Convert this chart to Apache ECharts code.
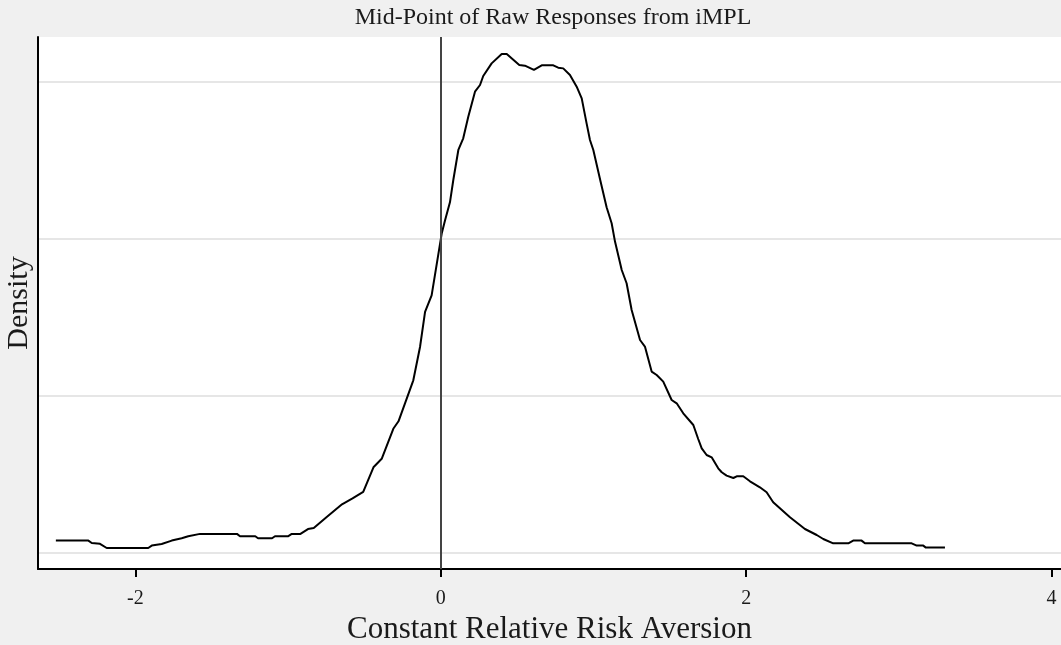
<!DOCTYPE html>
<html>
<head>
<meta charset="utf-8">
<script src="https://cdn.jsdelivr.net/npm/echarts@6/dist/echarts.min.js"></script>
<style>
html,body{margin:0;padding:0;background:#f0f0f0;}
#chart{width:1061px;height:645px;}
</style>
</head>
<body>
<div id="chart"></div>
<script>
// Kernel-density curve: x (CRRA) and density values
const xValues = [-2.521,-2.308,-2.286,-2.232,-2.188,-1.916,-1.893,-1.828,-1.762,-1.697,-1.654,-1.577,-1.335,-1.315,-1.215,-1.197,-1.105,-1.086,-1.001,-0.976,-0.919,-0.870,-0.832,-0.749,-0.647,-0.578,-0.508,-0.441,-0.387,-0.311,-0.277,-0.180,-0.136,-0.103,-0.060,0.006,0.028,0.060,0.082,0.115,0.147,0.180,0.224,0.257,0.278,0.333,0.399,0.432,0.514,0.551,0.610,0.661,0.737,0.769,0.802,0.846,0.890,0.923,0.955,0.977,0.999,1.043,1.086,1.119,1.141,1.185,1.217,1.250,1.305,1.337,1.381,1.414,1.457,1.512,1.545,1.588,1.654,1.686,1.709,1.741,1.774,1.817,1.840,1.872,1.916,1.938,1.981,2.025,2.090,2.134,2.177,2.287,2.385,2.462,2.505,2.570,2.669,2.701,2.756,2.778,3.084,3.117,3.160,3.177,3.302];
const densityValues = [0.00752,0.00745,0.00592,0.00541,0.00274,0.00274,0.00427,0.00529,0.00745,0.00892,0.01019,0.01172,0.01172,0.01019,0.01019,0.00892,0.00892,0.01019,0.01019,0.01172,0.01172,0.01478,0.01541,0.02229,0.03057,0.03439,0.03854,0.05414,0.05955,0.07866,0.08344,0.10955,0.13076,0.15306,0.16369,0.20299,0.21146,0.22293,0.23713,0.25624,0.26369,0.27745,0.29338,0.29764,0.30338,0.31140,0.31739,0.31739,0.31038,0.30994,0.30720,0.31013,0.31013,0.30866,0.30822,0.30401,0.29656,0.28911,0.27318,0.26261,0.25624,0.23758,0.21975,0.20955,0.19790,0.17981,0.17134,0.15433,0.13522,0.13102,0.11510,0.11293,0.10873,0.09701,0.09490,0.08854,0.08108,0.07217,0.06624,0.06197,0.06051,0.05350,0.05096,0.04885,0.04732,0.04841,0.04841,0.04522,0.04140,0.03822,0.03185,0.02229,0.01484,0.01102,0.00847,0.00573,0.00573,0.00745,0.00745,0.00573,0.00573,0.00427,0.00427,0.00299,0.00299];
const xTicks = [-2, 0, 2, 4];
const yGridValues = [0, 0.1, 0.2, 0.3];

const titleText = 'Mid-Point of Raw Responses from iMPL';
const xName = 'Constant Relative Risk Aversion';
const yName = 'Density';

const FONT = '"Liberation Serif", "DejaVu Serif", serif';
const curve = xValues.map((x, i) => [x, densityValues[i]]);

const chart = echarts.init(document.getElementById('chart'), null, {renderer: 'canvas'});
chart.setOption({
  backgroundColor: '#f0f0f0',
  animation: false,
  title: {
    text: titleText,
    left: 548, top: 1, textAlign: 'center',
    textStyle: {fontFamily: FONT, fontSize: 24, fontWeight: 'normal', color: '#1a1a1a'}
  },
  grid: {left: 38, right: 0, top: 37, bottom: 76, show: true, backgroundColor: '#ffffff', borderWidth: 0,
         containLabel: false, outerBoundsMode: 'none'},
  xAxis: {
    type: 'value', min: -2.638, max: 4.062,
    name: xName, nameLocation: 'middle', nameGap: 37,
    nameTextStyle: {fontFamily: FONT, fontSize: 31, color: '#1a1a1a'},
    axisLine: {show: true, onZero: false, lineStyle: {color: '#000', width: 2}},
    axisTick: {show: true, customValues: xTicks, length: 8, lineStyle: {color: '#000', width: 2}},
    axisLabel: {customValues: xTicks, margin: 20, fontFamily: FONT, fontSize: 20, color: '#1a1a1a'},
    splitLine: {show: false}
  },
  yAxis: {
    type: 'value', min: -0.01064, max: 0.3282,
    name: yName, nameLocation: 'middle', nameGap: 4, nameRotate: 90,
    nameTextStyle: {fontFamily: FONT, fontSize: 30, color: '#1a1a1a'},
    axisLine: {show: true, onZero: false, lineStyle: {color: '#000', width: 2}},
    axisTick: {show: false, customValues: yGridValues},
    axisLabel: {show: false, customValues: yGridValues},
    splitLine: {show: true, lineStyle: {color: '#e6e6e6', width: 2}}
  },
  series: [
    {
      type: 'line', data: [], silent: true, z: 2,
      markLine: {
        silent: true, symbol: ['none', 'none'], symbolSize: 0, label: {show: false},
        lineStyle: {color: '#444', width: 2, type: 'solid'},
        data: [{xAxis: 0}]
      }
    },
    {
      type: 'line', data: curve, showSymbol: false, smooth: false, z: 3,
      lineStyle: {color: '#000', width: 2}
    }
  ]
});
</script>
</body>
</html>
